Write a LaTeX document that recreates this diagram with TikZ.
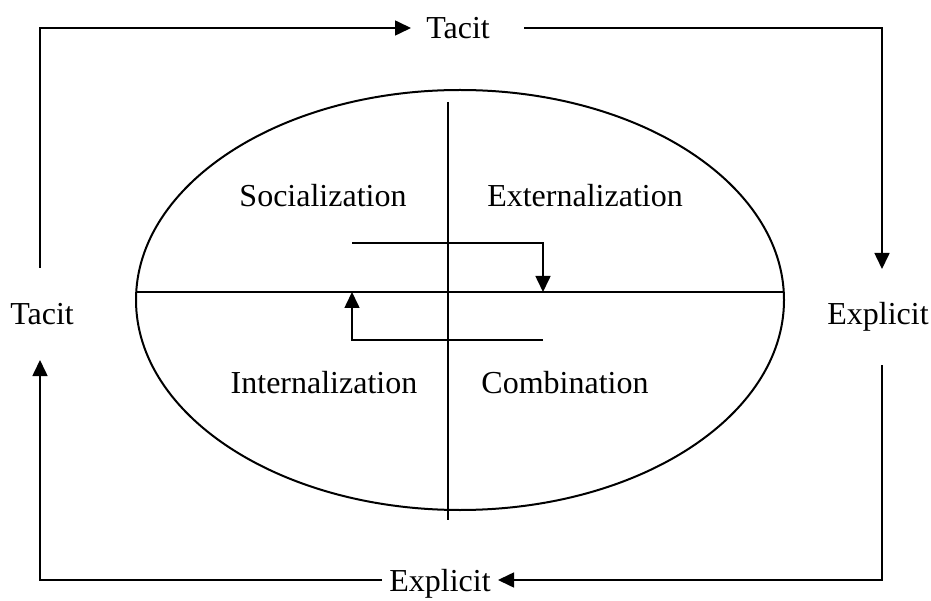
\documentclass[tikz,border=0pt]{standalone}
\usepackage{fontspec}
\setmainfont{Liberation Serif}
\usetikzlibrary{arrows.meta}
\begin{document}
\begin{tikzpicture}[x=1pt,y=-1pt,
  lbl/.style={inner sep=0pt,anchor=base,font=\fontsize{32}{38}\selectfont},
  ln/.style={line width=1.6pt},
  arr/.style={ln,-{Triangle[length=16pt,width=15pt]}}]
\useasboundingbox (0,0) rectangle (931,601);
% ellipse and axes
\draw[line width=2pt] (460,300) ellipse [x radius=324, y radius=210];
\coordinate (hl) at (136,292); \coordinate (hr) at (784,292);
\coordinate (vt) at (448,102); \coordinate (vb) at (448,520);
\draw[ln] (hl) -- (hr);
\draw[line width=1.3pt] (vt) -- (vb);
% quadrant labels
\node[lbl] (soc) at (323,207) {Socialization};
\node[lbl] (ext) at (585,207) {Externalization};
\node[lbl] (int) at (324,393) {Internalization};
\node[lbl] (com) at (565,393) {Combination};
% outer labels
\node[lbl] (tacT) at (458,39) {Tacit};
\node[lbl] (tacL) at (42,325) {Tacit};
\node[lbl] (expR) at (878,325) {Explicit};
\node[lbl] (expB) at (440,591) {Explicit};
% inner arrows
\coordinate (ia1) at (352,243); \coordinate (ia2) at (543,243); \coordinate (ia3) at (543,292);
\coordinate (ib1) at (543,340); \coordinate (ib2) at (352,340); \coordinate (ib3) at (352,292);
\draw[arr] (ia1) -- (ia2) -- (ia3);
\draw[arr] (ib1) -- (ib2) -- (ib3);
% outer arrows
\coordinate (a1) at (40,268); \coordinate (a2) at (40,28); \coordinate (a3) at (411,28);
\coordinate (b1) at (524,28); \coordinate (b2) at (882,28); \coordinate (b3) at (882,269);
\coordinate (c1) at (882,365); \coordinate (c2) at (882,580); \coordinate (c3) at (498,580);
\coordinate (d1) at (382,580); \coordinate (d2) at (40,580); \coordinate (d3) at (40,360);
\draw[arr] (a1) -- (a2) -- (a3);
\draw[arr] (b1) -- (b2) -- (b3);
\draw[arr] (c1) -- (c2) -- (c3);
\draw[arr] (d1) -- (d2) -- (d3);
\end{tikzpicture}
\end{document}
